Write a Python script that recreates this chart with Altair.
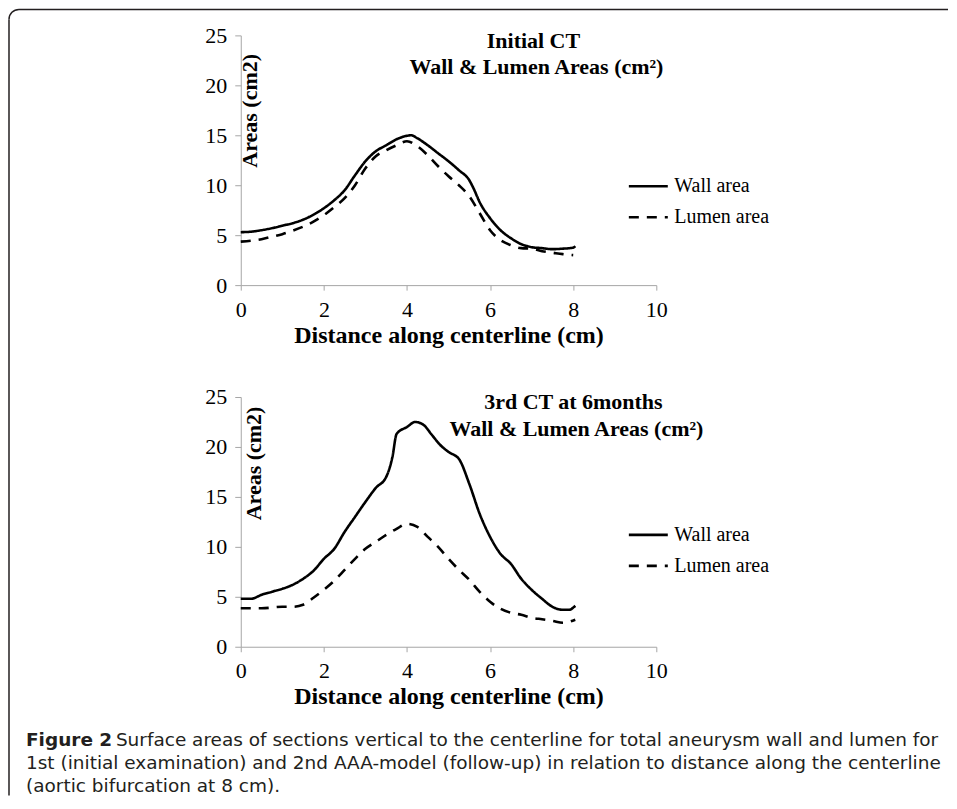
import altair as alt
import pandas as pd

# ---------------- data ----------------
SERIES = ["Wall area", "Lumen area"]
X_TICKS = [0, 2, 4, 6, 8, 10]
Y_TICKS = [0, 5, 10, 15, 20, 25]

# Initial CT
top_wall_x = [0, 0.25, 0.5, 0.75, 1, 1.25, 1.5, 1.75, 2, 2.25, 2.5, 2.75, 3, 3.25, 3.5, 3.75,
              4, 4.1, 4.25, 4.5, 4.75, 5, 5.25, 5.5, 5.6, 5.75, 6, 6.25, 6.5, 6.75, 7, 7.25,
              7.5, 7.75, 8, 8.05]
top_wall_y = [5.3, 5.35, 5.5, 5.7, 5.95, 6.2, 6.55, 7.05, 7.7, 8.5, 9.5, 11.0, 12.4, 13.4, 14.0, 14.6,
              14.95, 15.0, 14.7, 14.0, 13.2, 12.4, 11.5, 10.5, 9.7, 8.3, 6.7, 5.5, 4.7, 4.1, 3.8, 3.7,
              3.6, 3.65, 3.75, 3.9]
top_lumen_x = [0, 0.25, 0.5, 0.75, 1, 1.25, 1.5, 1.75, 2, 2.25, 2.5, 2.75, 3, 3.25, 3.5, 3.75,
               4, 4.25, 4.5, 4.75, 5, 5.25, 5.5, 5.75, 6, 6.25, 6.5, 6.75, 7, 7.25, 7.5, 7.75, 8]
top_lumen_y = [4.35, 4.45, 4.6, 4.85, 5.1, 5.45, 5.85, 6.35, 7.0, 7.8, 8.7, 10.0, 11.7, 12.9, 13.5, 14.0,
               14.4, 13.9, 13.0, 11.9, 10.9, 10.0, 8.9, 7.2, 5.5, 4.5, 4.0, 3.7, 3.65, 3.4, 3.25, 3.1, 3.0]

# 3rd CT at 6 months
bot_wall_x = [0, 0.25, 0.5, 0.75, 1, 1.25, 1.5, 1.75, 2, 2.25, 2.5, 2.75, 3, 3.25, 3.5, 3.65,
              3.75, 4, 4.2, 4.4, 4.6, 4.8, 5, 5.25, 5.5, 5.75, 6, 6.25, 6.5, 6.75, 7, 7.25,
              7.5, 7.75, 7.9, 8.05]
bot_wall_y = [4.8, 4.8, 5.2, 5.5, 5.8, 6.2, 6.8, 7.6, 8.8, 9.8, 11.5, 13.0, 14.5, 15.9, 17.0, 19.0,
              21.3, 22.0, 22.5, 22.2, 21.2, 20.2, 19.5, 18.8, 16.3, 13.3, 11.0, 9.3, 8.3, 6.8, 5.7, 4.8,
              4.0, 3.7, 3.7, 4.1]
bot_lumen_x = [0, 0.5, 1, 1.25, 1.5, 1.75, 2, 2.25, 2.5, 2.75, 3, 3.25, 3.5, 3.75, 4, 4.25,
               4.5, 4.75, 5, 5.25, 5.5, 5.75, 6, 6.25, 6.5, 6.75, 7, 7.25, 7.5, 7.75, 8.05]
bot_lumen_y = [3.85, 3.85, 4.0, 4.0, 4.2, 4.9, 5.7, 6.6, 7.7, 8.8, 9.8, 10.5, 11.2, 11.8, 12.3, 12.0,
               11.0, 10.0, 8.8, 7.7, 6.7, 5.5, 4.5, 3.8, 3.4, 3.2, 2.9, 2.75, 2.6, 2.4, 2.7]

TOP_TITLE = ["Initial CT", "Wall & Lumen Areas (cm\u00b2)"]
BOT_TITLE = ["3rd CT at 6months", "Wall & Lumen Areas (cm\u00b2)"]
X_TITLE = "Distance along centerline (cm)"
Y_TITLE = "Areas (cm2)"
CAPTION_BOLD = "Figure 2"
CAPTION = [
    "Surface areas of sections vertical to the centerline for total aneurysm wall and lumen for",
    "1st (initial examination) and 2nd AAA-model (follow-up) in relation to distance along the centerline",
    "(aortic bifurcation at 8 cm).",
]

SERIF = "Liberation Serif"
SANS = "DejaVu Sans"
CAP_COLOR = "#231f20"
AXIS_GREY = "#a6a6a6"
W, H = 416, 250
DASH = [10, 8]


def text_layer(txt, x, y, font=SERIF, size=22, weight="bold", align="center", color="black"):
    return alt.Chart(pd.DataFrame({"t": [txt]})).mark_text(
        font=font, fontSize=size, fontWeight=weight, align=align, baseline="alphabetic", color=color
    ).encode(text="t:N", x=alt.value(x), y=alt.value(y))


def panel(wx, wy, lx, ly, titles, tpos, ytx, yty, legy):
    df = pd.DataFrame({
        "x": wx + lx,
        "area": wy + ly,
        "series": [SERIES[0]] * len(wx) + [SERIES[1]] * len(lx),
    })
    lines = alt.Chart(df).mark_line(color="black", strokeWidth=2.6, interpolate="monotone").encode(
        x=alt.X("x:Q", scale=alt.Scale(domain=[0, 10], nice=False),
                axis=alt.Axis(values=X_TICKS, title=X_TITLE, labelFlush=False, labelOverlap=False,
                              tickSize=5, labelPadding=9, titlePadding=3)),
        y=alt.Y("area:Q", scale=alt.Scale(domain=[0, 25], nice=False),
                axis=alt.Axis(values=Y_TICKS, title=Y_TITLE, tickSize=6, labelPadding=8,
                              titleX=ytx, titleY=yty, titleAngle=270, titleAlign="center",
                              titleBaseline="alphabetic", titleFontSize=22, labelOverlap=False)),
        strokeDash=alt.StrokeDash("series:N", scale=alt.Scale(domain=SERIES, range=[[1, 0], DASH]),
                                  legend=alt.Legend(title=None, orient="none", legendX=387, legendY=legy,
                                                    symbolType="stroke", symbolSize=1521,
                                                    symbolStrokeWidth=2.6, symbolStrokeColor="black",
                                                    labelFont=SERIF, labelFontSize=20, labelColor="black",
                                                    labelOffset=5, rowPadding=-15, padding=0)),
        detail="series:N",
        order="x:Q",
    )
    t1 = text_layer(titles[0], tpos[0][0], tpos[0][1])
    t2 = text_layer(titles[1], tpos[1][0], tpos[1][1])
    return lines, t1, t2


one = pd.DataFrame({"k": [0]})

# ---- top panel ----
lines_t, t1_t, t2_t = panel(top_wall_x, top_wall_y, top_lumen_x, top_lumen_y, TOP_TITLE,
                            [(293, 13), (296, 39)], 16, 75, 130)
frame_top = alt.Chart(one).mark_rule(color=CAP_COLOR, strokeWidth=1.5).encode(
    x=alt.value(-222), x2=alt.value(708), y=alt.value(-26))
frame_left = alt.Chart(one).mark_rule(color=CAP_COLOR, strokeWidth=1.5).encode(
    x=alt.value(-232), y=alt.value(-16), y2=alt.value(761))
frame_corner = alt.Chart(one).mark_arc(radius=10.75, radius2=9.25, theta=4.7124, theta2=6.2832,
                                       color=CAP_COLOR).encode(x=alt.value(-222), y=alt.value(-16))
top = alt.layer(lines_t, t1_t, t2_t, frame_top, frame_left, frame_corner).properties(width=W, height=H)

# ---- bottom panel ----
lines_b, t1_b, t2_b = panel(bot_wall_x, bot_wall_y, bot_lumen_x, bot_lumen_y, BOT_TITLE,
                            [(333, 12), (336, 39)], 20, 66, 117)
CAP_SIZE = 18.5
cap_b = text_layer(CAPTION_BOLD, -215, 349, font=SANS, size=CAP_SIZE, weight="bold", align="left", color=CAP_COLOR)
cap_1 = text_layer(CAPTION[0], -125, 349, font=SANS, size=CAP_SIZE, weight="normal", align="left", color=CAP_COLOR)
cap_2 = text_layer(CAPTION[1], -215, 372, font=SANS, size=CAP_SIZE, weight="normal", align="left", color=CAP_COLOR)
cap_3 = text_layer(CAPTION[2], -215, 395, font=SANS, size=CAP_SIZE, weight="normal", align="left", color=CAP_COLOR)
bottom = alt.layer(lines_b, t1_b, t2_b, cap_b, cap_1, cap_2, cap_3).properties(width=W, height=H)

chart = alt.vconcat(top, bottom, spacing=112, bounds="flush").resolve_scale(
    strokeDash="independent").resolve_legend(strokeDash="independent").properties(
    padding=0).configure_view(stroke=None).configure_axis(
    grid=False, domainColor=AXIS_GREY, tickColor=AXIS_GREY, domainWidth=1, tickWidth=1,
    labelFont=SERIF, labelFontSize=22, labelColor="black",
    titleFont=SERIF, titleFontSize=24, titleFontWeight="bold", titleColor="black")

chart.save("out.html", embed_options={"renderer": "svg", "actions": False})
